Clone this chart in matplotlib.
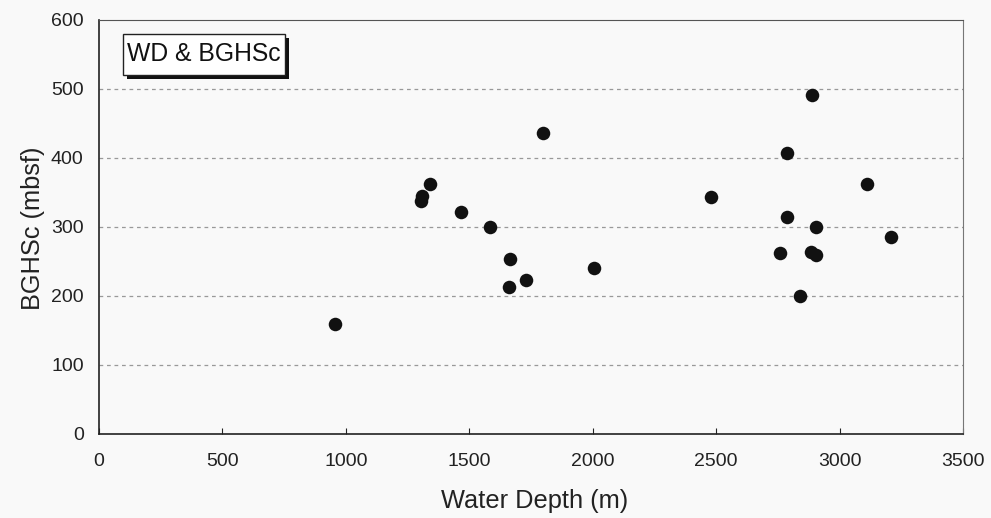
import matplotlib
matplotlib.use("Agg")
import matplotlib.pyplot as plt
from matplotlib.patches import Rectangle
from matplotlib.transforms import offset_copy

plt.rcParams['font.family'] = ['Liberation Sans', 'DejaVu Sans']

water_depth = [955, 1305, 1310, 1340, 1465, 1585, 1665, 1660, 1730, 1800, 2005, 2480,
               2760, 2785, 2785, 2840, 2885, 2890, 2905, 2905, 3110, 3210]
bghsc = [160, 338, 345, 362, 322, 300, 254, 213, 223, 436, 241, 344,
         263, 407, 314, 200, 264, 491, 259, 300, 363, 286]
x_ticks = [0, 500, 1000, 1500, 2000, 2500, 3000, 3500]
y_ticks = [0, 100, 200, 300, 400, 500, 600]

bg = '#f9f9f9'
fig = plt.figure(figsize=(9.91, 5.18), dpi=100, facecolor=bg)
ax = fig.add_axes([0.0999, 0.1622, 0.8719, 0.7992], facecolor=bg)

ax.scatter(water_depth, bghsc, s=95, color='#111111', zorder=3, linewidths=0)

ax.set_xlim(0, 3500)
ax.set_ylim(0, 600)
ax.set_xticks(x_ticks)
ax.set_yticks(y_ticks)
ax.tick_params(axis='x', direction='in', length=4, labelsize=14, pad=14, colors='#222222')
ax.tick_params(axis='y', direction='in', length=0, labelsize=14, pad=11, colors='#222222')

for y in y_ticks[1:-1]:
    ax.axhline(y, color='#999999', linestyle=(0, (3, 3)), linewidth=0.9, zorder=1)

ax.spines['left'].set_color('#222222')
ax.spines['bottom'].set_color('#222222')
ax.spines['left'].set_linewidth(1.2)
ax.spines['bottom'].set_linewidth(1.2)
ax.spines['top'].set_color('#555555')
ax.spines['right'].set_color('#777777')
ax.spines['top'].set_linewidth(0.8)
ax.spines['right'].set_linewidth(0.8)

ax.set_xlabel('Water Depth (m)', fontsize=18.3, color='#222222')
ax.xaxis.set_label_coords(0.504, -0.132)
ax.set_ylabel('BGHSc (mbsf)', fontsize=18.3, color='#222222')
ax.yaxis.set_label_coords(-0.063, 0.497)

# title box with drop shadow
box_xy = (0.0278, 0.867)
box_w, box_h = 0.1875, 0.099
shadow = Rectangle(box_xy, box_w, box_h,
                   transform=offset_copy(ax.transAxes, fig=fig, x=4, y=-4, units='dots'),
                   facecolor='#111111', edgecolor='none', zorder=4)
box = Rectangle(box_xy, box_w, box_h, transform=ax.transAxes,
                facecolor='white', edgecolor='#222222', linewidth=1.0, zorder=5)
ax.add_patch(shadow)
ax.add_patch(box)
ax.text(box_xy[0] + box_w / 2, box_xy[1] + box_h / 2 + 0.001, 'WD & BGHSc', transform=ax.transAxes,
        color='#111111', fontsize=17.8, va='center', ha='center', zorder=6)

fig.savefig('out.png', dpi=100, facecolor=bg)
